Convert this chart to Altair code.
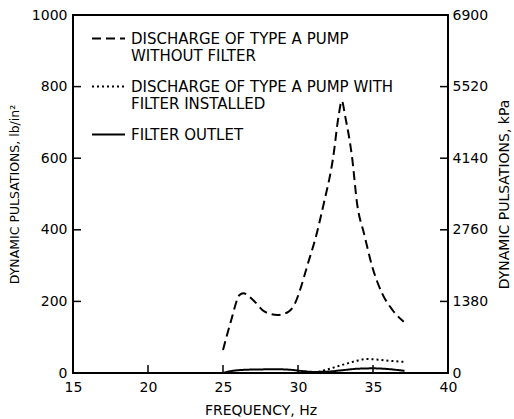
import altair as alt
import pandas as pd

S1 = "DISCHARGE OF TYPE A PUMP|WITHOUT FILTER"
S2 = "DISCHARGE OF TYPE A PUMP WITH|FILTER INSTALLED"
S3 = "FILTER OUTLET"

freq_nofilter = [25.0, 25.55, 26.1, 26.35, 27.0, 27.75, 28.65, 29.35, 29.75, 30.2, 30.6, 31.25, 31.7, 32.35, 32.7, 32.92, 33.15, 33.6, 33.95, 34.4, 34.95, 35.6, 36.3, 37.05]
pulse_nofilter = [64, 148, 218, 223, 204, 172, 162, 171, 190, 240, 297, 390, 470, 604, 716, 760, 716, 604, 470, 390, 297, 223, 176, 143]

freq_filter = [31.35, 32.2, 32.9, 33.4, 34.0, 34.5, 35.2, 35.8, 36.5, 37.1]
pulse_filter = [3, 13, 22, 28, 35, 39, 38, 35, 33, 31]

freq_outlet = [25.0, 25.5, 26.5, 27.5, 28.5, 29.5, 30.4, 31.1, 32.0, 33.0, 34.0, 35.0, 36.0, 37.1]
pulse_outlet = [0, 5, 9, 10, 10.5, 9, 5, 3, 4, 8, 12, 13, 11, 6]

x_ticks = [15, 20, 25, 30, 35, 40]
lb_ticks = [0, 200, 400, 600, 800, 1000]
kpa_ticks = [0, 1380, 2760, 4140, 5520, 6900]

W, H = 375, 358
FONT = "DejaVu Sans"
TICK = 8

rows = []
for name, fs, vs in [(S1, freq_nofilter, pulse_nofilter), (S2, freq_filter, pulse_filter), (S3, freq_outlet, pulse_outlet)]:
    for f, v in zip(fs, vs):
        rows.append({"freq": f, "value": v, "series": name})
df = pd.DataFrame(rows)

legend = alt.Legend(
    title=None, orient="none", legendX=18, legendY=6,
    symbolType="stroke", symbolSize=1089, symbolStrokeColor="black",
    labelFont=FONT, labelFontSize=15, labelColor="black", labelLimit=400,
    labelExpr="split(datum.label, '|')", labelOffset=5, rowPadding=5,
)

x_axis = alt.Axis(values=x_ticks, title="FREQUENCY, Hz", labelPadding=7, titlePadding=9,
                  format="d", labelFlush=False)
lb_axis = alt.Axis(values=lb_ticks, title="DYNAMIC PULSATIONS, lb/in²", orient="left",
                   labelPadding=6, titlePadding=10, format="d", labelFlush=False, titleFontSize=12.5)
kpa_axis = alt.Axis(values=kpa_ticks, title="DYNAMIC PULSATIONS, kPa", orient="right",
                    labelPadding=4, titlePadding=24, format="d", labelFlush=False, titleAngle=270)
x_scale = alt.Scale(domain=[15, 40], nice=False)
lb_scale = alt.Scale(domain=[0, 1000], nice=False)

lines = alt.Chart(df).mark_line(color="black", interpolate="monotone").encode(
    x=alt.X("freq:Q", scale=x_scale, axis=x_axis),
    y=alt.Y("value:Q", scale=lb_scale, axis=lb_axis, title="DYNAMIC PULSATIONS, lb/in²"),
    strokeDash=alt.StrokeDash("series:N", scale=alt.Scale(domain=[S1, S2, S3], range=[[9, 5], [2, 3], [1, 0]]), legend=legend),
    strokeWidth=alt.StrokeWidth("series:N", scale=alt.Scale(domain=[S1, S2, S3], range=[2, 2, 3]), legend=legend),
)

lb_df = pd.DataFrame({"value": lb_ticks})
x_df = pd.DataFrame({"freq": x_ticks})
kpa_df = pd.DataFrame({"kpa": kpa_ticks})

left_ticks = alt.Chart(lb_df).mark_rule(color="black", strokeWidth=1.5).encode(
    y=alt.Y("value:Q", scale=lb_scale, axis=lb_axis, title="DYNAMIC PULSATIONS, lb/in²"),
    x=alt.value(0), x2=alt.value(TICK))
bottom_ticks = alt.Chart(x_df).mark_rule(color="black", strokeWidth=1.5).encode(
    x=alt.X("freq:Q", scale=x_scale, axis=x_axis), y=alt.value(H - TICK), y2=alt.value(H))

right_ticks = alt.Chart(kpa_df).mark_rule(color="black", strokeWidth=1.5).encode(
    y=alt.Y("kpa:Q", scale=alt.Scale(domain=[0, 6900], nice=False), axis=kpa_axis),
    x=alt.value(W - TICK), x2=alt.value(W))

lb_layer = alt.layer(lines, left_ticks, bottom_ticks)
chart = alt.layer(lb_layer, right_ticks).resolve_scale(y="independent").properties(
    width=W, height=H,
    background="white",
    autosize=alt.AutoSizeParams(type="none"),
    padding={"left": 73, "top": 15, "right": 66, "bottom": 46},
).configure_view(stroke="black", strokeWidth=2).configure_axis(
    grid=False, domain=False, ticks=False,
    labelFont=FONT, labelFontSize=14, labelColor="black",
    titleFont=FONT, titleFontSize=14, titleFontWeight="normal", titleColor="black",
)

chart.save("out.html", embed_options={"renderer": "svg", "actions": False})
